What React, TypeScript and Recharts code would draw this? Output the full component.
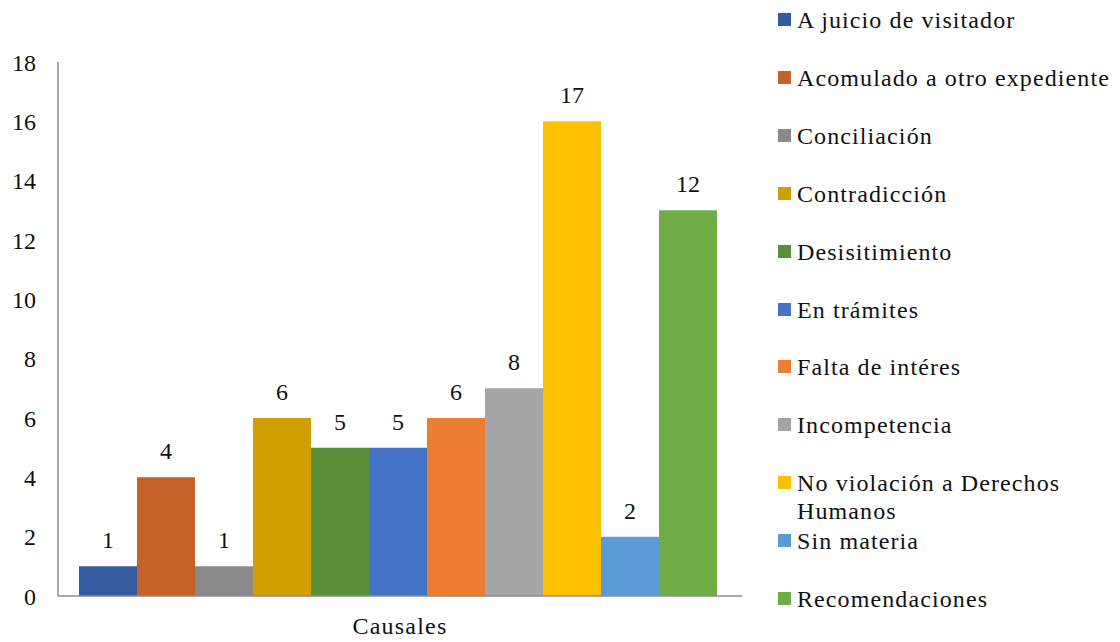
import { BarChart, Bar, XAxis, YAxis, LabelList } from "recharts";

const causes = [
  "A juicio de visitador",
  "Acomulado a otro expediente",
  "Conciliación",
  "Contradicción",
  "Desisitimiento",
  "En trámites",
  "Falta de intéres",
  "Incompetencia",
  "No violación a Derechos Humanos",
  "Sin materia",
  "Recomendaciones",
];

// bar heights as drawn in the picture
const values = [1, 4, 1, 6, 5, 5, 6, 7, 16, 2, 13];

// numbers printed above the bars
const valueLabels = ["1", "4", "1", "6", "5", "5", "6", "8", "17", "2", "12"];

const colors = [
  "#345C9F",
  "#C5622A",
  "#898989",
  "#D29F00",
  "#5B8E39",
  "#4472C4",
  "#ED7D31",
  "#A5A5A5",
  "#FFC000",
  "#5B9BD5",
  "#70AD47",
];

const yTicks = [0, 2, 4, 6, 8, 10, 12, 14, 16, 18];
const category = "Causales";

const row: Record<string, string | number> = { name: category };
values.forEach((v, i) => {
  row[`s${i}`] = v;
});
const data = [row];

const FONT = '"Liberation Serif", "Times New Roman", serif';

export default function App() {
  return (
    <div
      style={{
        position: "absolute",
        left: 0,
        top: 0,
        width: 1120,
        height: 642,
        background: "#fff",
        fontFamily: FONT,
      }}
    >
      <BarChart
        width={1120}
        height={642}
        data={data}
        margin={{ top: 62, right: 378, left: 0, bottom: 0 }}
        barCategoryGap={21}
        barGap={0}
      >
        <XAxis
          dataKey="name"
          height={46}
          tickLine={false}
          tickSize={0}
          tickMargin={21}
          axisLine={{ stroke: "#8c8c8c", strokeWidth: 1.5 }}
          tick={{ fontSize: 24, fill: "#111", fontFamily: FONT, letterSpacing: 1.2 }}
        />
        <YAxis
          width={58}
          domain={[0, 18]}
          ticks={yTicks}
          interval={0}
          tickLine={false}
          tickSize={0}
          tickMargin={22}
          axisLine={{ stroke: "#8c8c8c", strokeWidth: 1.5 }}
          tick={{ fontSize: 24, fill: "#111", fontFamily: FONT }}
        />
        {causes.map((c, i) => (
          <Bar
            key={c}
            dataKey={`s${i}`}
            name={c}
            fill={colors[i]}
            isAnimationActive={false}
          >
            <LabelList
              dataKey={`s${i}`}
              position="top"
              offset={18}
              formatter={() => valueLabels[i]}
              style={{ fontSize: 24, fill: "#111", fontFamily: FONT }}
            />
          </Bar>
        ))}
      </BarChart>
      {causes.map((c, i) => (
        <div
          key={c}
          style={{
            position: "absolute",
            left: 778,
            top: 20 + i * 57.9 - 14,
            display: "flex",
            alignItems: "flex-start",
            fontSize: 24,
            lineHeight: "28px",
            letterSpacing: 1.1,
            color: "#111",
          }}
        >
          <span
            style={{
              width: 13,
              height: 13,
              marginTop: 7,
              marginRight: 6,
              background: colors[i],
              flex: "none",
            }}
          />
          <span style={{ width: 320 }}>{c}</span>
        </div>
      ))}
    </div>
  );
}
